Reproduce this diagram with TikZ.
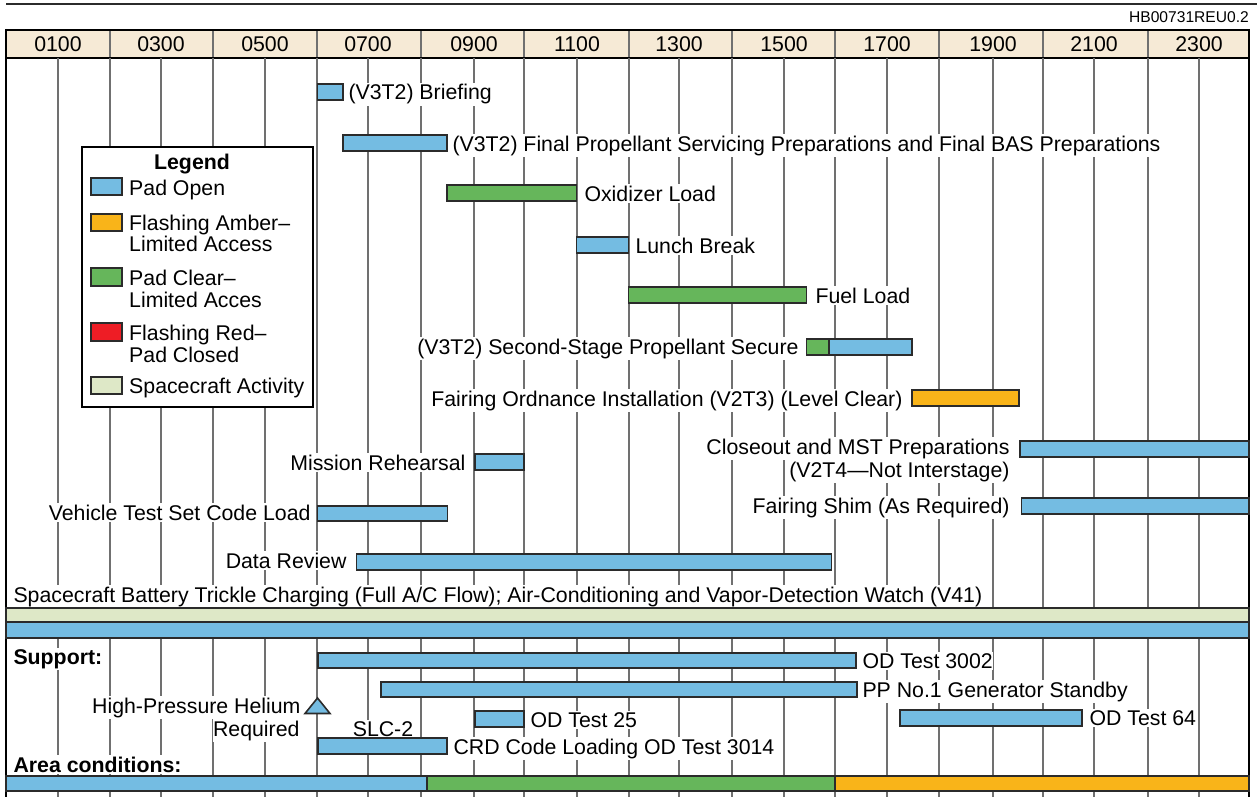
\documentclass[tikz,border=0pt]{standalone}
\usepackage{fontspec}
\setmainfont{Liberation Sans}
\usetikzlibrary{fit}
\definecolor{padblue}{HTML}{74BCE2}
\definecolor{padgreen}{HTML}{66B65B}
\definecolor{amber}{HTML}{F9B419}
\definecolor{padred}{HTML}{EE1D25}
\definecolor{scgreen}{HTML}{DEE8C7}
\definecolor{hdr}{HTML}{F6EAD6}
\definecolor{gridc}{HTML}{707070}
\definecolor{edge}{HTML}{2B2B2B}
\newcommand\gbar[6]{\node[bar, fill=#6, fit={(#2,#4) (#3,#5)}] (#1) {};}
\begin{document}
\begin{tikzpicture}[x=1pt,y=-1pt,
  bar/.style={draw=edge, line width=1.8pt, inner sep=0pt, outer sep=0pt},
  lbl/.style={font=\fontsize{21.3}{22}\selectfont, inner xsep=0.5pt, inner ysep=1.5pt, outer sep=0pt, fill=white},
  lr/.style={lbl, anchor=base west},
  ll/.style={lbl, anchor=base east},
  bl/.style={lbl, anchor=base west, font=\fontsize{21.3}{22}\selectfont\bfseries},
  gridline/.style={draw=gridc, line width=1.3pt},
  hdrtxt/.style={font=\fontsize{21.3}{22}\selectfont, anchor=base, inner sep=0pt},
  legtxt/.style={font=\fontsize{21.3}{22}\selectfont, anchor=base west, inner sep=0pt},
  swatch/.style={draw=edge, line width=1.6pt, inner sep=0pt, outer sep=0pt},
]
\useasboundingbox (0,0) rectangle (1257,797);
% top rule and code
\draw[draw=edge, line width=2.8pt] (6,4) -- (1257,4);
\node[font=\fontsize{15.6}{16}\selectfont, anchor=base east, inner sep=0pt] (code) at (1249,22.5) {HB00731REU0.2};
% header band
\fill[hdr] (6,30) rectangle (1249,58);
\foreach \x in {110,213,317,421,524,629,732,835,939,1043,1148}
  \draw[gridline] (\x,30) -- (\x,58);
\draw[black, line width=2.2pt] (6,30) -- (1249,30);
\draw[black, line width=2.2pt] (6,58) -- (1249,58);
\foreach \x/\t in {58/0100,161/0300,265/0500,368/0700,474/0900,577/1100,679/1300,784/1500,887/1700,993/1900,1094/2100,1199/2300}
  \node[hdrtxt] at (\x,52) {\t};
% grid lines
\foreach \x in {58,110,161,213,265,317,368,421,474,524,577,629,679,732,784,835,887,939,993,1043,1094,1148,1199}
  \draw[gridline] (\x,58) -- (\x,797);
% labels (white knockout over grid)
\node[lr] (tbrief) at (348,100) {(V3T2) Briefing};
\node[lr] (tfin) at (452,151) {(V3T2) Final Propellant Servicing Preparations and Final BAS Preparations};
\node[lr] (toxid) at (584,201) {Oxidizer Load};
\node[lr] (tlunch) at (635,253) {Lunch Break};
\node[lr] (tfuel) at (815,303) {Fuel Load};
\node[ll] (tsec) at (799,354) {(V3T2) Second-Stage Propellant Secure};
\node[ll] (tord) at (903,406) {Fairing Ordnance Installation (V2T3) (Level Clear)};
\node[ll] (tclose) at (1010,454) {Closeout and MST Preparations};
\node[ll] (tclose2) at (1010,477) {(V2T4—Not Interstage)};
\node[ll] (tmiss) at (466,470) {Mission Rehearsal};
\node[ll] (tvts) at (311,520) {Vehicle Test Set Code Load};
\node[ll] (tshim) at (1010,513) {Fairing Shim (As Required)};
\node[ll] (tdata) at (347,568) {Data Review};
\node[lr] (tsc) at (13,602) {Spacecraft Battery Trickle Charging (Full A/C Flow); Air-Conditioning and Vapor-Detection Watch (V41)};
\node[bl] (tsup) at (13,664) {Support:};
\node[lr] (t3002) at (862,668) {OD Test 3002};
\node[lr] (tpp) at (862,697) {PP No.1 Generator Standby};
\node[ll] (thel) at (301,713) {High-Pressure Helium};
\node[ll] (threq) at (300,736) {Required};
\node[lbl, anchor=base] (tslc) at (383,736) {SLC-2};
\node[lr] (t25) at (530,727) {OD Test 25};
\node[lr] (t64) at (1089,725) {OD Test 64};
\node[lr] (tcrd) at (453,754) {CRD Code Loading OD Test 3014};
\node[bl] (tarea) at (13,772) {Area conditions:};
% borders
\draw[black, line width=2.6pt] (6,29) -- (6,797);
\draw[black, line width=2.6pt] (1249,29) -- (1249,797);
% bars
\gbar{brief}{317.5}{343}{84}{100}{padblue}
\gbar{finprop}{343}{447}{135}{151}{padblue}
\gbar{oxid}{447}{576.5}{185}{201}{padgreen}
\gbar{lunch}{576.5}{628.5}{237}{253}{padblue}
\gbar{fuel}{628.5}{806.5}{287}{303}{padgreen}
\gbar{secg}{806.5}{829}{339}{355}{padgreen}
\gbar{secb}{829}{912}{339}{355}{padblue}
\gbar{ord}{912}{1019}{390}{406}{amber}
\gbar{close}{1020}{1249}{441}{457}{padblue}
\gbar{miss}{475}{524}{454}{470}{padblue}
\gbar{vts}{317.5}{447.5}{506}{521}{padblue}
\gbar{shim}{1021.5}{1249}{498}{514}{padblue}
\gbar{data}{356.5}{831.5}{554}{570}{padblue}
\gbar{scact}{6}{1249}{608}{622}{scgreen}
\gbar{scopen}{6}{1249}{622}{638}{padblue}
\gbar{od3002}{318}{856}{653}{668}{padblue}
\gbar{pp}{381}{857}{682}{697}{padblue}
\gbar{od64}{900}{1082}{710}{726}{padblue}
\gbar{od25}{475}{524}{711}{727}{padblue}
\gbar{crd}{318}{447}{738}{754}{padblue}
\gbar{areab}{6}{427}{776}{791}{padblue}
\gbar{areag}{427}{835}{776}{791}{padgreen}
\gbar{areao}{835}{1249}{776}{791}{amber}
% helium triangle
\draw[draw=edge, line width=1.6pt, fill=padblue, line join=miter] (317.5,698) -- (330,713.5) -- (305,713.5) -- cycle;
% legend
\node[draw=black, line width=1.4pt, fill=white, inner sep=0pt, fit={(82,147) (313,407)}] (legend) {};
\node[font=\fontsize{21.3}{22}\selectfont\bfseries, anchor=base, inner sep=0pt] (legtitle) at (192,169) {Legend};
\node[swatch, fill=padblue, fit={(91,178) (122,195)}] (sw1) {};
\node[swatch, fill=amber, fit={(91,214) (122,231)}] (sw2) {};
\node[swatch, fill=padgreen, fit={(91,268) (122,286)}] (sw3) {};
\node[swatch, fill=padred, fit={(91,323) (122,341)}] (sw4) {};
\node[swatch, fill=scgreen, fit={(91,377) (122,394)}] (sw5) {};
\node[legtxt] (lg1) at (129,195) {Pad Open};
\node[legtxt] (lg2a) at (129,230) {Flashing Amber–};
\node[legtxt] (lg2b) at (129,251) {Limited Access};
\node[legtxt] (lg3a) at (129,285) {Pad Clear–};
\node[legtxt] (lg3b) at (129,307) {Limited Acces};
\node[legtxt] (lg4a) at (129,340) {Flashing Red–};
\node[legtxt] (lg4b) at (129,362) {Pad Closed};
\node[legtxt] (lg5) at (129,393) {Spacecraft Activity};
\end{tikzpicture}
\end{document}
